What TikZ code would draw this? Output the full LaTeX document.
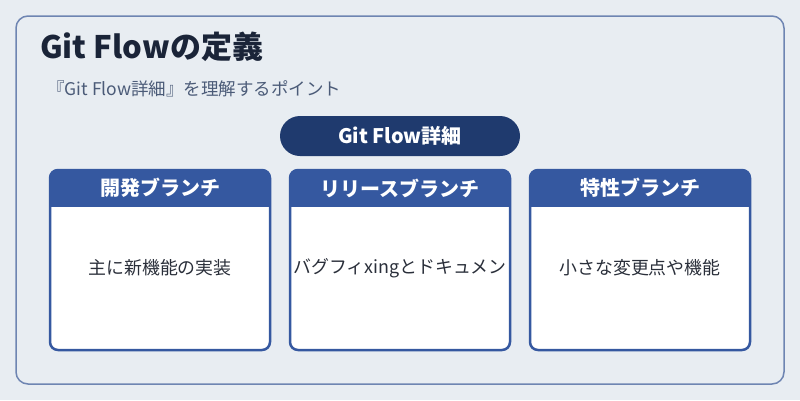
\documentclass[tikz,border=0pt]{standalone}
\usepackage{fontspec}
\setmainfont{Noto Sans CJK JP}
\definecolor{bgc}{HTML}{E8EDF2}
\definecolor{framec}{HTML}{6E85B2}
\definecolor{pillc}{HTML}{1F3A6E}
\definecolor{headc}{HTML}{3558A0}
\definecolor{titlec}{HTML}{1A2438}
\definecolor{subc}{HTML}{4B5B78}
\definecolor{bodyc}{HTML}{2A2F3A}
\tikzset{
  cardhead/.style={font=\fontsize{20}{22}\selectfont\bfseries, text=white, anchor=center},
  cardtext/.style={font=\fontsize{17.9}{20}\selectfont, text=bodyc, anchor=center},
}
\begin{document}
\begin{tikzpicture}[x=1pt,y=-1pt]
\useasboundingbox (0,0) rectangle (800,400);
\fill[bgc] (0,0) rectangle (800,400);
\draw[framec, line width=1.5pt, rounded corners=12pt] (16,16) rectangle (784,384);
\node[anchor=base west, inner sep=0pt, text=titlec, font=\fontsize{31}{34}\selectfont\bfseries] (title) at (40,58) {Git Flowの定義};
\node[anchor=base west, inner sep=0pt, text=subc, font=\fontsize{17.5}{20}\selectfont] (sub) at (47,95) {『Git Flow詳細』を理解するポイント};
\fill[pillc, rounded corners=20pt] (280,116) rectangle (520,156);
\node[text=white, font=\fontsize{20}{22}\selectfont\bfseries] (pill) at (400,136) {Git Flow詳細};
\foreach \cx/\h/\b [count=\i] in {160/開発ブランチ/主に新機能の実装, 400/リリースブランチ/バグフィxingとドキュメン, 640/特性ブランチ/小さな変更点や機能}{
  \begin{scope}
    \clip[rounded corners=8pt] (\cx-110,170) rectangle (\cx+110,350);
    \fill[white] (\cx-110,170) rectangle (\cx+110,350);
    \fill[headc] (\cx-110,170) rectangle (\cx+110,207);
  \end{scope}
  \draw[headc, line width=2.5pt, rounded corners=8pt] (\cx-110,170) rectangle (\cx+110,350);
  \node[cardhead] (h\i) at (\cx,188) {\h};
  \node[cardtext] (b\i) at (\cx,268) {\b};
}
\end{tikzpicture}
\end{document}
